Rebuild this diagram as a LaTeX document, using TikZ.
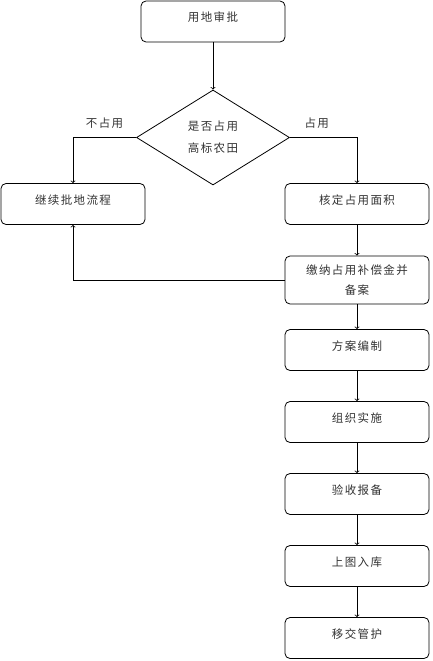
\documentclass[tikz,border=0pt]{standalone}
\usepackage{fontspec}
\setmainfont[LetterSpace=12]{Noto Sans CJK SC}
\usetikzlibrary{shapes.geometric}

\tikzset{
	stepbox/.style={draw, rounded corners=5pt, minimum width=144pt, minimum height=41pt, inner sep=0pt, text=black!80, font=\fontsize{11.5}{20}\selectfont},
	oneline/.style={stepbox, text height=8pt, text depth=8pt},
	flow/.style={->, line width=0.8pt},
}

\begin{document}
\begin{tikzpicture}[x=1pt, y=-1pt, line width=0.8pt]
		\useasboundingbox (0,0) rectangle (432,661);

		\node (approve)[oneline] at (213,21.5) {用地审批};
		\node (judge)[diamond, draw, aspect=1.6, minimum width=153pt, minimum height=95pt, inner sep=0pt, align=center, text=black!80, font=\fontsize{11.5}{22}\selectfont] at (213,137.5) {是否占用\\高标农田};
		\node (goon)[oneline] at (73,204) {继续批地流程};
		\node (area)[oneline] at (357,204) {核定占用面积};
		\node (pay)[stepbox, minimum height=48pt, align=center] at (357,280) {缴纳占用补偿金并\\备案};
		\node (plan)[oneline] at (357,350) {方案编制};
		\node (work)[oneline] at (357,422) {组织实施};
		\node (check)[oneline] at (357,494) {验收报备};
		\node (map)[oneline] at (357,566) {上图入库};
		\node (hand)[oneline] at (357,638) {移交管护};

		\draw [flow](approve) -- (judge);
		\draw [flow](judge.west) -| node [pos=0.25, above=5pt, text=black!80, font=\fontsize{11.5}{14}\selectfont]{不占用} (goon.north);
		\draw [flow](judge.east) -| node [pos=0.2, above=5pt, text=black!80, font=\fontsize{11.5}{14}\selectfont]{占用} (area.north);
		\draw [flow](area) -- (pay);
		\draw [flow](pay.west) -| (goon.south);
		\foreach \a/\b in {pay/plan, plan/work, work/check, check/map, map/hand}
			\draw [flow](\a) -- (\b);
	\end{tikzpicture}
\end{document}
